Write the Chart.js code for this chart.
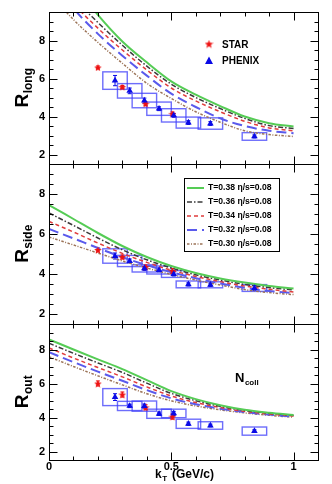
<!DOCTYPE html>
<html>
<head>
<meta charset="utf-8">
<script src="https://cdn.jsdelivr.net/npm/chart.js@4.4.1/dist/chart.umd.min.js"></script>
<style>
  html, body { margin: 0; padding: 0; background: #fff; }
  #wrap { position: relative; width: 332px; height: 484px; }
  #wrap canvas { position: absolute; left: 0; top: 0; }
</style>
</head>
<body>
<div id="wrap">
  <canvas id="cLong" width="332" height="484"></canvas>
  <canvas id="cSide" width="332" height="484"></canvas>
  <canvas id="cOut" width="332" height="484"></canvas>
</div>
<script>
// kT grid of the hydro curves (GeV/c)
const ktGrid = [0, 0.1, 0.2, 0.3, 0.4, 0.5, 0.6, 0.7, 0.8, 0.9, 1.0];
const hydroLabels = ['T=0.38 η/s=0.08', 'T=0.36 η/s=0.08', 'T=0.34 η/s=0.08', 'T=0.32 η/s=0.08', 'T=0.30 η/s=0.08'];

// R_long hydro curves (fm)
const longT38 = [12.8, 11.0, 9.35, 7.95, 6.85, 5.85, 5.15, 4.55, 4.0, 3.65, 3.47];
const longT36 = [12.4, 10.3, 8.95, 7.75, 6.65, 5.7, 5.0, 4.42, 3.9, 3.52, 3.37];
const longT34 = [12.0, 10.0, 8.65, 7.5, 6.45, 5.5, 4.82, 4.25, 3.75, 3.4, 3.25];
const longT32 = [11.5, 9.7, 8.35, 7.2, 6.15, 5.2, 4.5, 3.9, 3.5, 3.25, 3.12];
const longT30 = [10.5, 9.1, 7.9, 6.8, 5.75, 4.95, 4.25, 3.7, 3.25, 3.05, 2.95];

// R_side hydro curves
const sideT38 = [7.45, 6.75, 6.05, 5.4, 4.85, 4.4, 4.05, 3.78, 3.57, 3.4, 3.27];
const sideT36 = [7.05, 6.43, 5.8, 5.21, 4.71, 4.3, 3.96, 3.7, 3.48, 3.32, 3.2];
const sideT34 = [6.63, 6.1, 5.55, 5.03, 4.58, 4.19, 3.88, 3.62, 3.4, 3.24, 3.1];
const sideT32 = [6.25, 5.78, 5.3, 4.84, 4.44, 4.09, 3.79, 3.53, 3.31, 3.15, 3.05];
const sideT30 = [5.85, 5.45, 5.05, 4.65, 4.3, 3.98, 3.7, 3.45, 3.22, 3.07, 2.97];

// R_out hydro curves
const outT38 = [8.6, 8.0, 7.42, 6.85, 6.2, 5.55, 5.08, 4.72, 4.45, 4.28, 4.15];
const outT36 = [8.37, 7.78, 7.21, 6.65, 6.02, 5.42, 4.99, 4.66, 4.41, 4.25, 4.12];
const outT34 = [8.09, 7.5, 6.94, 6.39, 5.8, 5.27, 4.88, 4.59, 4.36, 4.21, 4.09];
const outT32 = [7.84, 7.26, 6.7, 6.16, 5.61, 5.13, 4.78, 4.52, 4.32, 4.17, 4.05];
const outT30 = [7.57, 7.0, 6.45, 5.92, 5.4, 4.98, 4.68, 4.45, 4.27, 4.13, 4.02];

// PHENIX data: value, statistical error, systematic error
const phenixKt = [0.27, 0.33, 0.39, 0.45, 0.51, 0.57, 0.66, 0.84];
const phenixLong = [5.89, 5.35, 4.84, 4.41, 4.06, 3.68, 3.63, 2.95];
const phenixLongStat = [0.27, 0.15, 0.13, 0.1, 0.1, 0.1, 0.1, 0.08];
const phenixLongSys = [0.46, 0.38, 0.38, 0.35, 0.35, 0.29, 0.3, 0.2];
const phenixSide = [4.9, 4.65, 4.28, 4.2, 4.0, 3.48, 3.46, 3.3];
const phenixSideStat = [0.15, 0.1, 0.1, 0.1, 0.1, 0.08, 0.08, 0.12];
const phenixSideSys = [0.36, 0.28, 0.18, 0.2, 0.17, 0.17, 0.15, 0.17];
const phenixOut = [5.2, 4.68, 4.67, 4.22, 4.24, 3.63, 3.53, 3.2];
const phenixOutStat = [0.2, 0.1, 0.12, 0.1, 0.12, 0.1, 0.08, 0.08];
const phenixOutSys = [0.5, 0.27, 0.3, 0.27, 0.25, 0.27, 0.22, 0.24];

// STAR data: value, statistical error
const starKt = [0.2, 0.3, 0.395, 0.505];
const starLong = [6.58, 5.55, 4.67, 4.14];
const starLongStat = [0.08, 0.08, 0.1, 0.1];
const starSide = [5.2, 4.85, 4.35, 4.15];
const starSideStat = [0.1, 0.1, 0.1, 0.12];
const starOut = [6.0, 5.35, 4.6, 4.05];
const starOutStat = [0.15, 0.15, 0.15, 0.15];

const FONT = '"Liberation Sans", Arial, sans-serif';
const PHENIX_BLUE = '#0a0ae6';
const STAR_RED = '#ee1111';

const lineStyles = [
    { color: '#55cc55', width: 2, dash: [] },
    { color: '#3a3a3a', width: 1.5, dash: [5, 2, 1.5, 2] },
    { color: '#e03c3c', width: 1.5, dash: [4, 3] },
    { color: '#5a5aec', width: 2, dash: [10, 5] },
    { color: '#9c7458', width: 1.5, dash: [2.5, 1.5, 1, 1.5] }
];

// small filled star used as the STAR marker
function makeStar(size, color) {
    const c = document.createElement('canvas');
    c.width = size; c.height = size;
    const g = c.getContext('2d');
    const cx = size / 2, cy = size / 2 + 0.4, ro = size / 2, ri = ro * 0.42;
    g.beginPath();
    for (let i = 0; i < 10; i++) {
        const r = i % 2 === 0 ? ro : ri;
        const a = -Math.PI / 2 + i * Math.PI / 5;
        g.lineTo(cx + r * Math.cos(a), cy + r * Math.sin(a));
    }
    g.closePath();
    g.fillStyle = color;
    g.fill();
    return c;
}
const starImg = makeStar(8, STAR_RED);

// per-panel extras, looked up by canvas id
const panelInfo = {
    cLong: { sub: 'long', phenixY: phenixLong, phenixStat: phenixLongStat, phenixSys: phenixLongSys, starY: starLong, starStat: starLongStat },
    cSide: { sub: 'side', phenixY: phenixSide, phenixStat: phenixSideStat, phenixSys: phenixSideSys, starY: starSide, starStat: starSideStat },
    cOut:  { sub: 'out',  phenixY: phenixOut,  phenixStat: phenixOutStat,  phenixSys: phenixOutSys,  starY: starOut,  starStat: starOutStat }
};

function errBar(ctx, x, y, kt, val, err, cap) {
    const px = x.getPixelForValue(kt);
    const y1 = y.getPixelForValue(val - err), y2 = y.getPixelForValue(val + err);
    ctx.beginPath();
    ctx.moveTo(px, y1); ctx.lineTo(px, y2);
    ctx.moveTo(px - cap, y1); ctx.lineTo(px + cap, y1);
    ctx.moveTo(px - cap, y2); ctx.lineTo(px + cap, y2);
    ctx.stroke();
}

function subText(ctx, main, sub, x, y, mainSize, subSize, subDrop) {
    ctx.font = 'bold ' + mainSize + 'px ' + FONT;
    ctx.fillText(main, x, y);
    const w = ctx.measureText(main).width;
    ctx.font = 'bold ' + subSize + 'px ' + FONT;
    ctx.fillText(sub, x + w + 0.5, y + subDrop);
}

const panelDecor = {
    id: 'panelDecor',
    beforeDatasetsDraw(chart) {
        const info = panelInfo[chart.canvas.id];
        const { ctx, chartArea: a, scales: { x, y } } = chart;
        ctx.save();
        ctx.beginPath();
        ctx.rect(a.left, a.top, a.right - a.left, a.bottom - a.top);
        ctx.clip();
        // systematic boxes
        ctx.strokeStyle = 'rgba(60,60,250,0.75)';
        ctx.lineWidth = 1.4;
        phenixKt.forEach((k, i) => {
            const x1 = x.getPixelForValue(k - 0.05), x2 = x.getPixelForValue(k + 0.05);
            const y1 = y.getPixelForValue(info.phenixY[i] + info.phenixSys[i]);
            const y2 = y.getPixelForValue(info.phenixY[i] - info.phenixSys[i]);
            ctx.strokeRect(x1, y1, x2 - x1, y2 - y1);
        });
        // statistical errors
        ctx.lineWidth = 1;
        ctx.strokeStyle = PHENIX_BLUE;
        phenixKt.forEach((k, i) => errBar(ctx, x, y, k, info.phenixY[i], info.phenixStat[i], 2));
        ctx.strokeStyle = STAR_RED;
        starKt.forEach((k, i) => errBar(ctx, x, y, k, info.starY[i], info.starStat[i], 2));
        ctx.restore();
    },
    afterDraw(chart) {
        const id = chart.canvas.id;
        const info = panelInfo[id];
        const { ctx, chartArea: a, scales: { x, y } } = chart;
        ctx.save();
        // frame
        const L = a.left + 0.5, R = a.right + 0.5, T = a.top + 0.5, B = a.bottom + 0.5;
        ctx.strokeStyle = '#000';
        ctx.lineWidth = 1;
        ctx.strokeRect(L, T, R - L, B - T);
        // ticks on all four sides, pointing inwards
        ctx.beginPath();
        for (let i = 0; i <= 10; i++) {
            const px = Math.round(x.getPixelForValue(i / 10)) + 0.5;
            const len = i % 5 === 0 ? 8 : 4;
            ctx.moveTo(px, B); ctx.lineTo(px, B - len);
            ctx.moveTo(px, T); ctx.lineTo(px, T + len);
        }
        for (let i = 4; i <= 18; i++) {
            const v = i / 2;
            const py = Math.round(y.getPixelForValue(v)) + 0.5;
            const len = v % 2 === 0 ? 8 : 4;
            ctx.moveTo(L, py); ctx.lineTo(L + len, py);
            ctx.moveTo(R, py); ctx.lineTo(R - len, py);
        }
        ctx.stroke();

        // y axis title, rotated
        ctx.fillStyle = '#000';
        ctx.textAlign = 'left';
        ctx.textBaseline = 'alphabetic';
        ctx.translate(28, (a.top + a.bottom) / 2);
        ctx.rotate(-Math.PI / 2);
        ctx.font = 'bold 19px ' + FONT;
        const wR = ctx.measureText('R').width;
        ctx.font = 'bold 12px ' + FONT;
        const wS = ctx.measureText(info.sub).width;
        subText(ctx, 'R', info.sub, -(wR + wS) / 2, 0, 19, 12, 4);
        ctx.setTransform(1, 0, 0, 1, 0, 0);

        if (id === 'cLong') {
            // experiment legend
            ctx.drawImage(makeStar(9, STAR_RED), 204.5, 39.5);
            ctx.fillStyle = PHENIX_BLUE;
            ctx.beginPath();
            ctx.moveTo(209, 56.5); ctx.lineTo(213, 64); ctx.lineTo(205, 64);
            ctx.closePath(); ctx.fill();
            ctx.fillStyle = '#000';
            ctx.font = 'bold 10px ' + FONT;
            ctx.fillText('STAR', 222, 48);
            ctx.fillText('PHENIX', 222, 64);
        }
        if (id === 'cSide') {
            // hydro legend box
            ctx.fillStyle = '#fff';
            ctx.fillRect(184.5, 178.5, 95, 73);
            ctx.strokeStyle = '#000';
            ctx.lineWidth = 1;
            ctx.strokeRect(184.5, 178.5, 95, 73);
            chart.data.datasets.slice(0, 5).forEach((ds, i) => {
                const ly = 188 + i * 14;
                ctx.strokeStyle = ds.borderColor;
                ctx.lineWidth = ds.borderWidth;
                ctx.setLineDash(ds.borderDash);
                ctx.beginPath();
                ctx.moveTo(187, ly); ctx.lineTo(204, ly);
                ctx.stroke();
                ctx.setLineDash([]);
                ctx.fillStyle = '#000';
                ctx.font = 'bold 8.6px ' + FONT;
                ctx.textBaseline = 'middle';
                ctx.fillText(ds.label, 208, ly);
            });
            ctx.textBaseline = 'alphabetic';
        }
        if (id === 'cOut') {
            ctx.fillStyle = '#000';
            subText(ctx, 'N', 'coll', 235, 382, 13, 8, 3);
            subText(ctx, 'k', 'T', 155, 478, 12, 8, 3);
            ctx.font = 'bold 12px ' + FONT;
            ctx.fillText('(GeV/c)', 172, 478);
        }
        ctx.restore();
    }
};

function makePanel(canvasId, curves, phenixY, starY, padTop, padBottom, showX) {
    const datasets = curves.map((vals, i) => ({
        label: hydroLabels[i],
        data: ktGrid.map((k, j) => ({ x: k, y: vals[j] })),
        borderColor: lineStyles[i].color,
        borderWidth: lineStyles[i].width,
        borderDash: lineStyles[i].dash,
        pointRadius: 0,
        fill: false,
        cubicInterpolationMode: 'monotone',
        order: 2
    }));
    datasets.push({
        label: 'PHENIX',
        data: phenixKt.map((k, j) => ({ x: k, y: phenixY[j] })),
        showLine: false,
        pointStyle: 'triangle',
        pointRadius: 3.8,
        backgroundColor: PHENIX_BLUE,
        borderColor: PHENIX_BLUE,
        borderWidth: 0,
        order: 0
    });
    datasets.push({
        label: 'STAR',
        data: starKt.map((k, j) => ({ x: k, y: starY[j] })),
        showLine: false,
        pointStyle: starImg,
        pointRadius: 4,
        order: 0
    });

    return new Chart(document.getElementById(canvasId), {
        type: 'line',
        data: { datasets: datasets },
        options: {
            responsive: false,
            animation: false,
            devicePixelRatio: 1,
            layout: { padding: { top: padTop, bottom: padBottom, left: 0, right: 14 } },
            plugins: { legend: { display: false }, tooltip: { enabled: false } },
            scales: {
                x: {
                    type: 'linear',
                    min: 0,
                    max: 1.1,
                    display: showX,
                    afterBuildTicks: s => { s.ticks = [{ value: 0 }, { value: 0.5 }, { value: 1 }]; },
                    afterFit: s => { s.height = showX ? 24 : 0; },
                    ticks: {
                        autoSkip: false,
                        maxRotation: 0,
                        padding: 0,
                        color: '#000',
                        font: { family: FONT, size: 11, weight: 'bold' },
                        callback: v => String(v)
                    },
                    grid: { display: false, drawTicks: false },
                    border: { display: false }
                },
                y: {
                    type: 'linear',
                    min: 1.5,
                    max: 9.5,
                    afterBuildTicks: s => { s.ticks = [2, 4, 6, 8].map(v => ({ value: v })); },
                    afterFit: s => { s.width = 49; },
                    ticks: {
                        padding: 4,
                        color: '#000',
                        font: { family: FONT, size: 11, weight: 'bold' }
                    },
                    grid: { display: false, drawTicks: false },
                    border: { display: false }
                }
            }
        },
        plugins: [panelDecor]
    });
}

makePanel('cLong', [longT38, longT36, longT34, longT32, longT30], phenixLong, starLong, 12, 320, false);
makePanel('cSide', [sideT38, sideT36, sideT34, sideT32, sideT30], phenixSide, starSide, 164, 160, false);
makePanel('cOut', [outT38, outT36, outT34, outT32, outT30], phenixOut, starOut, 324, 0, true);
</script>
</body>
</html>
